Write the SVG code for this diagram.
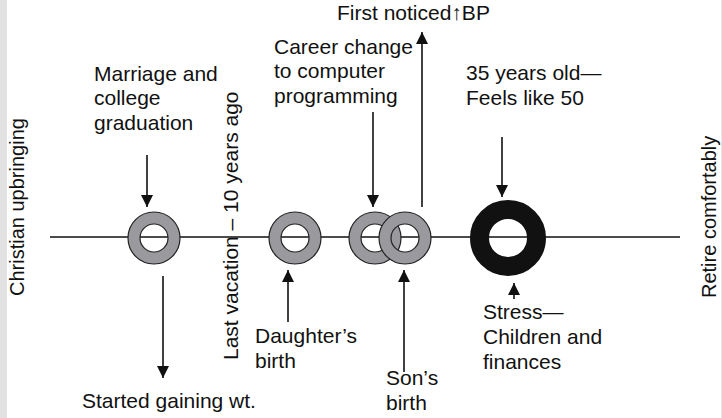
<svg xmlns="http://www.w3.org/2000/svg" width="722" height="418" viewBox="0 0 722 418">
  <style>
    .lbl { font-family: "Liberation Sans", Arial, sans-serif; font-size: 21px; fill: #111; }
    .side { font-family: "Liberation Sans", Arial, sans-serif; font-size: 20px; fill: #111; }
    .ln { stroke: #111; stroke-width: 1.6; fill: none; }
    .ring { fill: none; stroke: #9a9a9e; }
    .edge { fill: none; stroke: #222; stroke-width: 1.2; }
  </style>
  <defs>
    <marker id="ah" viewBox="0 0 10 10" refX="10" refY="5" markerWidth="12" markerHeight="12" markerUnits="userSpaceOnUse" orient="auto">
      <path d="M0,0 L10,5 L0,10 Z" fill="#111"/>
    </marker>
  </defs>

  <rect x="0" y="0" width="722" height="418" fill="#ffffff"/>
  <rect x="0" y="0" width="7" height="418" fill="#e2e2e2"/>
  <rect x="721" y="0" width="1" height="418" fill="#e6e6e6"/>

  <!-- timeline axis -->
  <g id="timeline">
    <line class="ln" x1="50" y1="237" x2="680" y2="237"/>
  </g>

  <!-- connectors -->
  <g id="connectors">
    <line class="ln" x1="147" y1="155" x2="147" y2="207" marker-end="url(#ah)"/>
    <line class="ln" x1="163" y1="276" x2="163" y2="378" marker-end="url(#ah)"/>
    <line class="ln" x1="288" y1="322" x2="288" y2="270" marker-end="url(#ah)"/>
    <line class="ln" x1="373" y1="112" x2="373" y2="207" marker-end="url(#ah)"/>
    <line class="ln" x1="404" y1="372" x2="404" y2="270" marker-end="url(#ah)"/>
    <line class="ln" x1="422" y1="207" x2="422" y2="32" marker-end="url(#ah)"/>
    <line class="ln" x1="502" y1="137" x2="502" y2="197" marker-end="url(#ah)"/>
    <line class="ln" x1="514" y1="299" x2="514" y2="283" marker-end="url(#ah)"/>
  </g>

  <!-- events -->
  <g id="marriage">
    <circle class="ring" cx="154" cy="238" r="20" stroke-width="12"/>
    <circle class="edge" cx="154" cy="238" r="26"/>
    <circle class="edge" cx="154" cy="238" r="14"/>
    <text class="lbl" x="94" y="81">Marriage and</text>
    <text class="lbl" x="94" y="105">college</text>
    <text class="lbl" x="94" y="130">graduation</text>
  </g>

  <g id="weight">
    <text class="lbl" x="82" y="408">Started gaining wt.</text>
  </g>

  <g id="vacation">
    <text class="lbl" font-size="22" transform="translate(238,360) rotate(-90)">Last vacation – 10 years ago</text>
  </g>

  <g id="daughter">
    <circle class="ring" cx="295" cy="238" r="20" stroke-width="12"/>
    <circle class="edge" cx="295" cy="238" r="26"/>
    <circle class="edge" cx="295" cy="238" r="14"/>
    <text class="lbl" x="255" y="343">Daughter’s</text>
    <text class="lbl" x="255" y="368">birth</text>
  </g>

  <g id="career">
    <circle class="ring" cx="375" cy="238" r="20" stroke-width="12"/>
    <circle class="edge" cx="375" cy="238" r="26"/>
    <circle class="edge" cx="375" cy="238" r="14"/>
    <text class="lbl" x="274" y="54">Career change</text>
    <text class="lbl" x="274" y="78">to computer</text>
    <text class="lbl" x="274" y="103">programming</text>
  </g>

  <g id="son">
    <circle class="ring" cx="405" cy="238" r="20" stroke-width="12"/>
    <circle class="edge" cx="405" cy="238" r="26"/>
    <circle class="edge" cx="405" cy="238" r="14"/>
    <text class="lbl" x="386" y="385">Son’s</text>
    <text class="lbl" x="386" y="410">birth</text>
  </g>

  <g id="bp">
    <text class="lbl" x="337" y="20">First noticed↑BP</text>
  </g>

  <g id="stress">
    <circle cx="508" cy="238" r="28.5" fill="none" stroke="#111" stroke-width="19"/>
    <text class="lbl" x="466" y="80">35 years old—</text>
    <text class="lbl" x="466" y="105">Feels like 50</text>
    <text class="lbl" x="483" y="319">Stress—</text>
    <text class="lbl" x="483" y="344">Children and</text>
    <text class="lbl" x="483" y="369">finances</text>
  </g>

  <g id="start">
    <text class="side" transform="translate(24,296) rotate(-90)">Christian upbringing</text>
  </g>

  <g id="end">
    <text class="side" transform="translate(716,298) rotate(-90)">Retire comfortably</text>
  </g>
</svg>
